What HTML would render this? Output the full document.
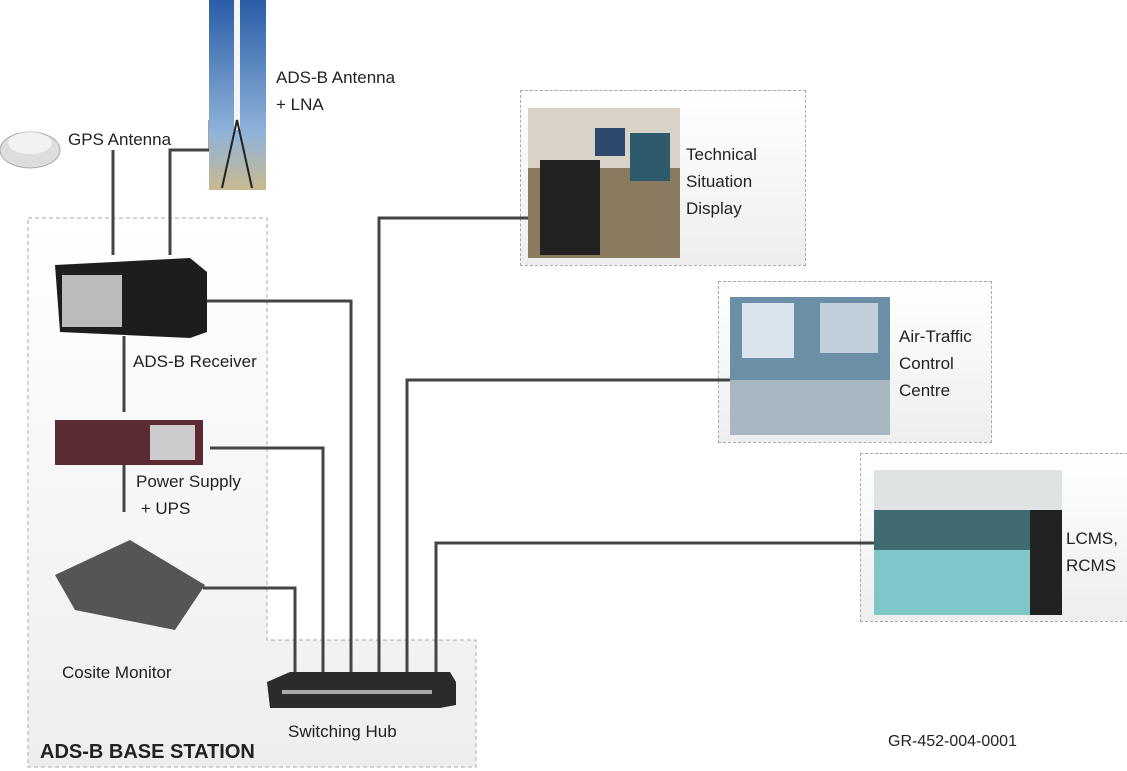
<!DOCTYPE html>
<html><head><style>
body{margin:0;width:1127px;height:771px;background:#fff;position:relative;overflow:hidden;font-family:"Liberation Sans",sans-serif;color:#222}
.t{position:absolute;font-size:17px;line-height:27px}
.d{position:absolute;border:1px dashed #aaa;background:linear-gradient(#fff,#eee)}
.p{position:absolute}
</style></head><body>
<div class="d" style="left:520px;top:90px;width:284px;height:174px"></div>
<div class="d" style="left:718px;top:281px;width:272px;height:160px"></div>
<div class="d" style="left:860px;top:453px;width:266px;height:167px"></div>
<svg class="p" style="left:0;top:0" width="1127" height="771">
<defs><linearGradient id="g" x1="0" y1="0" x2="0" y2="1"><stop offset="0" stop-color="#fff"/><stop offset="1" stop-color="#eee"/></linearGradient>
<linearGradient id="sky" x1="0" y1="0" x2="0" y2="1"><stop offset="0" stop-color="#2a5da8"/><stop offset="0.7" stop-color="#8fb3d9"/><stop offset="1" stop-color="#c9b98f"/></linearGradient></defs>
<path d="M28 218H267V640H476V767H28Z" fill="url(#g)" stroke="#aaa" stroke-dasharray="4 3"/>
<g stroke="#444" stroke-width="3" fill="none">
<path d="M113 150V255"/><path d="M170 255V150H210V120"/>
<path d="M124 336V412"/><path d="M124 448V512"/>
<path d="M207 301H351V672"/><path d="M210 448H323V672"/><path d="M203 588H295V672"/>
<path d="M379 672V218H530"/><path d="M407 672V380H730"/><path d="M436 672V543H876"/>
</g>
<rect x="209" y="0" width="57" height="190" fill="url(#sky)"/>
<rect x="234" y="0" width="6" height="130" fill="#f4f4f4"/>
<path d="M237 120L222 188M237 120L252 188" stroke="#222" stroke-width="2"/>
<ellipse cx="30" cy="150" rx="30" ry="18" fill="#ddd" stroke="#aaa"/>
<ellipse cx="30" cy="143" rx="22" ry="11" fill="#f2f2f2"/>
<path d="M55 265L190 258L207 272V332L190 338L60 332Z" fill="#1d1d1d"/>
<rect x="62" y="275" width="60" height="52" fill="#bbb"/>
<rect x="55" y="420" width="148" height="45" fill="#5b2a32"/>
<rect x="150" y="425" width="45" height="35" fill="#ccc"/>
<path d="M55 575L130 540L205 585L175 630L75 610Z" fill="#555"/>
<path d="M267 682L290 672H450L456 682V705L440 708H270Z" fill="#2b2b2b"/>
<rect x="282" y="690" width="150" height="4" fill="#aaa"/>
<rect x="528" y="108" width="152" height="150" fill="#8a7a60"/>
<rect x="528" y="108" width="152" height="60" fill="#d8d3c6"/>
<rect x="595" y="128" width="30" height="28" fill="#2d4a6c"/><rect x="630" y="133" width="40" height="48" fill="#2d5a6c"/>
<rect x="540" y="160" width="60" height="95" fill="#222"/>
<rect x="730" y="297" width="160" height="138" fill="#6b8fa6"/>
<rect x="742" y="303" width="52" height="55" fill="#d9e4ec"/><rect x="820" y="303" width="58" height="50" fill="#c0cfd9"/>
<rect x="730" y="380" width="160" height="55" fill="#a7b8c3"/>
<rect x="874" y="470" width="188" height="145" fill="#3e6a72"/>
<rect x="874" y="470" width="188" height="40" fill="#dfe3e3"/>
<rect x="874" y="550" width="188" height="65" fill="#7fc6c9"/>
<rect x="1030" y="510" width="32" height="105" fill="#222"/>
</svg>
<div class="t" style="left:276px;top:64px">ADS-B Antenna<br>+ LNA</div>
<div class="t" style="left:68px;top:126px">GPS Antenna</div>
<div class="t" style="left:133px;top:348px">ADS-B Receiver</div>
<div class="t" style="left:136px;top:468px">Power Supply<br>&nbsp;+ UPS</div>
<div class="t" style="left:62px;top:659px">Cosite Monitor</div>
<div class="t" style="left:288px;top:718px">Switching Hub</div>
<div class="t" style="left:40px;top:739px;font-weight:bold;font-size:20px">ADS-B BASE STATION</div>
<div class="t" style="left:686px;top:141px">Technical<br>Situation<br>Display</div>
<div class="t" style="left:899px;top:323px">Air-Traffic<br>Control<br>Centre</div>
<div class="t" style="left:1066px;top:525px">LCMS,<br>RCMS</div>
<div class="t" style="left:888px;top:728px;font-size:16px">GR-452-004-0001</div>
</body></html>
